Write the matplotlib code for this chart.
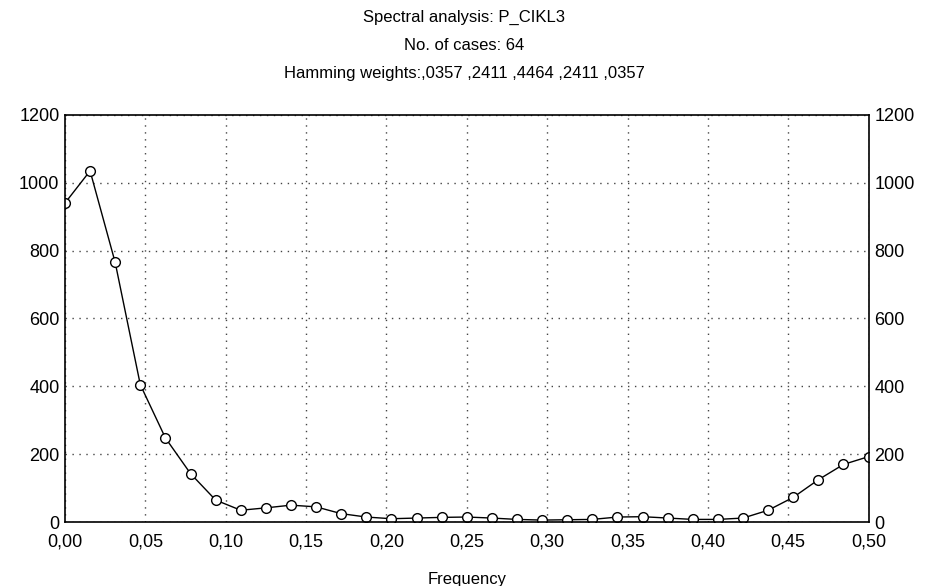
import matplotlib.pyplot as plt
import numpy as np

plt.rcParams['font.family'] = ['Liberation Sans', 'DejaVu Sans']

n_cases = 64
spectrum = [940, 1035, 765, 405, 248, 143, 65, 35, 42, 50, 45, 25, 15, 10,
            12, 14, 15, 12, 8, 6, 7, 8, 15, 16, 12, 8, 8, 12, 35, 73, 125,
            170, 193]
freq = np.arange(len(spectrum)) / n_cases
xticks = [0.0, 0.05, 0.10, 0.15, 0.20, 0.25, 0.30, 0.35, 0.40, 0.45, 0.50]
yticks = [0, 200, 400, 600, 800, 1000, 1200]

fig = plt.figure(figsize=(9.28, 5.86), dpi=100)
ax = fig.add_axes([0.070, 0.109, 0.866, 0.695])

ax.plot(freq, spectrum, color='black', lw=1.0, marker='o', ms=7,
        mfc='white', mec='black', mew=1.0)

ax.set_xlim(0, 0.5)
ax.set_ylim(0, 1200)
ax.set_xticks(xticks)
ax.set_xticklabels([f"{t:.2f}".replace('.', ',') for t in xticks])
ax.set_yticks(yticks)
ax.tick_params(axis='x', labelsize=13, length=0, pad=8)
ax.tick_params(axis='y', labelsize=13, length=0, pad=4, right=True,
               labelright=True)
ax.grid(True, ls=(0, (1, 4)), color='#444444', lw=1.0)

for s in ax.spines.values():
    s.set_linewidth(1.2)

ax.set_xlabel('Frequency', fontsize=12, labelpad=16)
fig.text(0.5, 0.970, 'Spectral analysis: P_CIKL3', ha='center', va='center',
         fontsize=12)
fig.text(0.5, 0.922, f'No. of cases: {n_cases}', ha='center', va='center',
         fontsize=12)
fig.text(0.5, 0.874, 'Hamming weights:,0357 ,2411 ,4464 ,2411 ,0357',
         ha='center', va='center', fontsize=12)

fig.savefig('out.png', dpi=100)
